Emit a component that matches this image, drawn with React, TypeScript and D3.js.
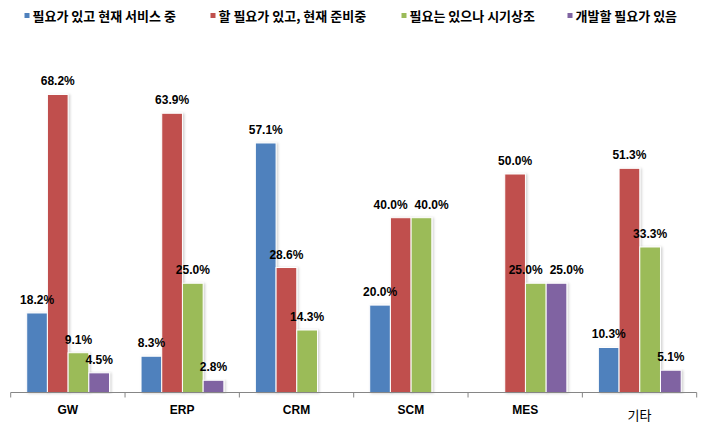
import React from "react";
import * as d3 from "d3";

const categories = ["GW", "ERP", "CRM", "SCM", "MES", "기타"];
const seriesNames = [
  "필요가 있고 현재 서비스 중",
  "할 필요가 있고, 현재 준비중",
  "필요는 있으나 시기상조",
  "개발할 필요가 있음",
];
const serviceNow = [18.2, 8.3, 57.1, 20.0, 0, 10.3];
const preparing = [68.2, 63.9, 28.6, 40.0, 50.0, 51.3];
const premature = [9.1, 25.0, 14.3, 40.0, 25.0, 33.3];
const needDev = [4.5, 2.8, 0, 0, 25.0, 5.1];
const seriesValues = [serviceNow, preparing, premature, needDev];
const colors = ["#4F81BD", "#C0504D", "#9BBB59", "#8064A2"];
const legendX = [24.5, 210.5, 401.5, 567.5];

const W = 707;
const H = 431;
const left = 10.7;
const right = 696.7;
const baseY = 392.5;
const labelSize = 12;

function labelWidth(s: string) {
  let w = 0;
  for (const ch of s) w += ch === "." ? 0.278 : ch === "%" ? 0.889 : 0.556;
  return w * labelSize;
}

export default function App() {
  const x0 = d3.scaleBand<string>().domain(categories).range([left, right]).padding(0);
  const bw = x0.bandwidth();
  const x1 = d3
    .scaleBand<number>()
    .domain(d3.range(seriesNames.length))
    .range([16, bw - 15.5])
    .padding(0);
  const y = d3.scaleLinear().domain([0, 80]).range([baseY, baseY - 80 * 4.37]);
  const ticks = [left, ...categories.map((c) => (x0(c) as number) + bw)];
  const font = "'Noto Sans CJK KR', 'Noto Sans', sans-serif";
  const numFont = "'Liberation Sans', Arial, sans-serif";
  const w = x1.bandwidth();

  type Mark = { ci: number; si: number; v: number; x: number; lx: number; ly: number; text: string };
  const marks: Mark[] = [];
  categories.forEach((c, ci) => {
    const group: Mark[] = [];
    seriesValues.forEach((vals, si) => {
      const v = vals[ci];
      if (!v) return;
      const x = (x0(c) as number) + (x1(si) as number);
      group.push({ ci, si, v, x, lx: x + w / 2, ly: y(v) - 9, text: v.toFixed(1) + "%" });
    });
    // simple de-overlap of neighbouring labels at similar heights
    for (let iter = 0; iter < 5; iter++) {
      for (let k = 0; k < group.length - 1; k++) {
        const a = group[k];
        const b = group[k + 1];
        if (Math.abs(a.ly - b.ly) > 11) continue;
        const need = (labelWidth(a.text) + labelWidth(b.text)) / 2 + 7;
        const d = b.lx - a.lx;
        if (d < need) {
          const shift = (need - d) / 2;
          a.lx -= shift;
          b.lx += shift;
        }
      }
    }
    marks.push(...group);
  });

  return (
    <svg
      width={W}
      height={H}
      style={{ position: "absolute", left: 0, top: 0, background: "#fff" }}
    >
      <defs>
        <filter id="sh" x="-20%" y="-5%" width="150%" height="110%">
          <feDropShadow dx="1.5" dy="0.5" stdDeviation="0.8" floodColor="#000" floodOpacity="0.18" />
        </filter>
      </defs>
      {/* legend */}
      {seriesNames.map((s, i) => (
        <g key={s}>
          <rect x={legendX[i]} y={13} width={5} height={5} fill={colors[i]} />
          <text
            x={legendX[i] + 8}
            y={21}
            fontFamily={font}
            fontSize={13}
            fontWeight="bold"
            fill="#000"
          >
            {s}
          </text>
        </g>
      ))}
      {/* bars */}
      {marks.map((m, k) => (
        <rect
          key={k}
          x={m.x}
          y={y(m.v)}
          width={w}
          height={baseY - y(m.v)}
          fill={colors[m.si]}
          stroke="#fff"
          strokeWidth={1}
          filter="url(#sh)"
        />
      ))}
      {marks.map((m, k) => (
        <text
          key={k}
          x={m.lx}
          y={m.ly}
          textAnchor="middle"
          fontFamily={numFont}
          fontSize={labelSize}
          fontWeight="bold"
          fill="#000"
        >
          {m.text}
        </text>
      ))}
      {/* axis */}
      <line x1={left} x2={right} y1={baseY} y2={baseY} stroke="#868686" strokeWidth={1} />
      {ticks.map((t, i) => (
        <line key={i} x1={t} x2={t} y1={baseY} y2={baseY + 5} stroke="#868686" strokeWidth={1} />
      ))}
      {categories.map((c) => (
        <text
          key={c}
          x={(x0(c) as number) + bw / 2}
          y={c === "기타" ? 419.5 : 413.8}
          textAnchor="middle"
          fontFamily={c === "기타" ? font : numFont}
          fontSize={c === "기타" ? 13 : 12}
          fontWeight={c === "기타" ? "normal" : "bold"}
          fill="#000"
        >
          {c}
        </text>
      ))}
    </svg>
  );
}
